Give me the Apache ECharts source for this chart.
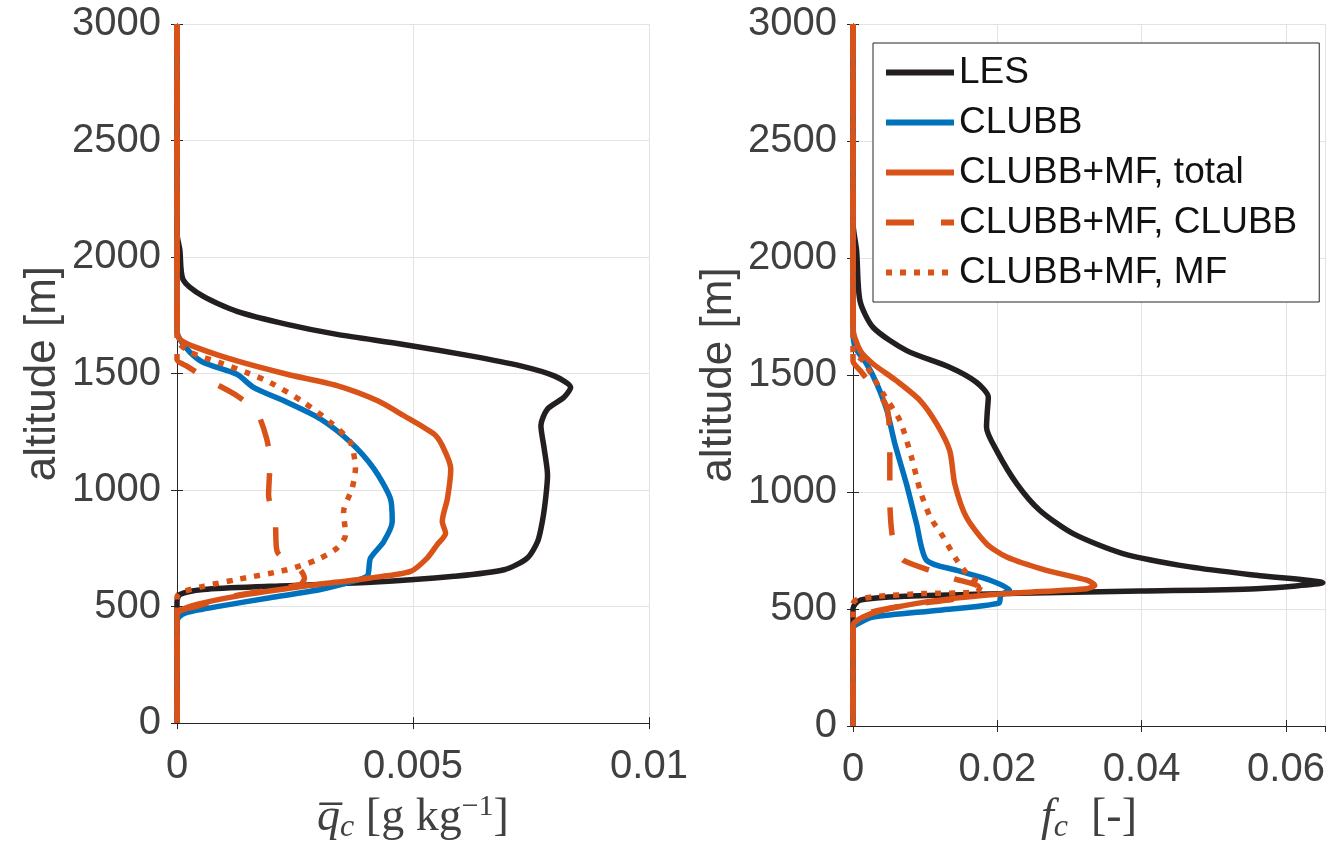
<!DOCTYPE html>
<html>
<head>
<meta charset="utf-8">
<script src="https://cdn.jsdelivr.net/npm/echarts@6/dist/echarts.min.js"></script>
<style>
  html, body { margin: 0; padding: 0; background: #fff; }
  #chart { width: 1328px; height: 849px; }
</style>
</head>
<body>
<div id="chart"></div>
<script>
// left panel: mean cloud water qc [g/kg] vs altitude [m]
const qcLesAlt = [3000, 2100, 2031, 1903, 1831, 1767, 1711, 1668, 1625, 1576, 1533, 1490, 1441, 1398, 1348, 1277, 1177, 1064, 964, 865, 779, 708, 658, 630, 604, 587, 573, 552, 520, 0]
const qcLesVal = [0, 0, 0.00006, 0.00013, 0.00056, 0.00127, 0.00233, 0.00339, 0.0048, 0.00622, 0.00728, 0.00799, 0.00834, 0.0082, 0.00785, 0.00771, 0.00778, 0.00785, 0.00781, 0.00774, 0.00764, 0.00742, 0.00693, 0.00587, 0.0041, 0.00197, 0.00056, 0.00006, 0, 0]

const qcClubbAlt = [3000, 1680, 1647, 1590, 1547, 1497, 1441, 1377, 1305, 1206, 1092, 964, 865, 779, 708, 651, 630, 609, 573, 538, 502, 474, 455, 430, 0]
const qcClubbVal = [0, 0, 0.00006, 0.00028, 0.00056, 0.00127, 0.00162, 0.00233, 0.00304, 0.00367, 0.00417, 0.00452, 0.00456, 0.00438, 0.0041, 0.00406, 0.00403, 0.00374, 0.00304, 0.00197, 0.00091, 0.0002, 0.00004, 0, 0]

const qcTotalAlt = [3000, 1680, 1647, 1611, 1554, 1497, 1448, 1384, 1320, 1241, 1191, 1092, 964, 865, 815, 765, 708, 651, 623, 587, 545, 509, 481, 460, 0]
const qcTotalVal = [0, 0, 0.00006, 0.00042, 0.00127, 0.00233, 0.00339, 0.00424, 0.0048, 0.00544, 0.00562, 0.0058, 0.00573, 0.00562, 0.00569, 0.00551, 0.0053, 0.00495, 0.0041, 0.00268, 0.00127, 0.00042, 0.00006, 0, 0]

const qcMfClubbAlt = [3000, 1560, 1533, 1469, 1405, 1334, 1220, 1121, 978, 865, 737, 694, 658, 620, 594, 545, 500, 470, 0]
const qcMfClubbVal = [0, 0, 0.0002, 0.0007, 0.00127, 0.00169, 0.0019, 0.00197, 0.00194, 0.00208, 0.00212, 0.00233, 0.00261, 0.0027, 0.0026, 0.0012, 0.0004, 0, 0]

const qcMfAlt = [3000, 1647, 1590, 1547, 1504, 1462, 1377, 1291, 1206, 1092, 1007, 907, 808, 751, 701, 658, 616, 587, 559, 540, 0]
const qcMfVal = [0, 0, 0.0003, 0.0009, 0.00148, 0.00197, 0.00268, 0.00325, 0.00367, 0.00378, 0.00371, 0.00353, 0.00357, 0.00339, 0.00297, 0.00233, 0.00127, 0.00056, 0.00006, 0, 0]

// right panel: cloud fraction fc [-] vs altitude [m]
const fcLesAlt = [3000, 2150, 2031, 1817, 1703, 1604, 1533, 1469, 1405, 1340, 1277, 1177, 1035, 921, 822, 737, 680, 644, 613, 587, 577, 566, 555, 538, 502, 0]
const fcLesVal = [0, 0, 0.0005, 0.00097, 0.0028, 0.00744, 0.0134, 0.0171, 0.01875, 0.0186, 0.0185, 0.0199, 0.0227, 0.0259, 0.0305, 0.0374, 0.0467, 0.0559, 0.0651, 0.0559, 0.0398, 0.0213, 0.0074, 0.001, 0, 0]

const fcClubbAlt = [3000, 1700, 1618, 1547, 1462, 1348, 1206, 1035, 865, 708, 665, 623, 580, 560, 525, 495, 466, 438, 420, 0]
const fcClubbVal = [0, 0, 0.0003, 0.0019, 0.0033, 0.0047, 0.0058, 0.0074, 0.0088, 0.0102, 0.0144, 0.019, 0.0217, 0.0205, 0.0202, 0.012, 0.0028, 0.0007, 0, 0]

const fcTotalAlt = [3000, 1700, 1604, 1547, 1476, 1391, 1291, 1177, 1035, 893, 779, 722, 665, 623, 601, 587, 566, 538, 502, 466, 430, 0]
const fcTotalVal = [0, 0, 0.001, 0.0028, 0.006, 0.0093, 0.0116, 0.0134, 0.0141, 0.0157, 0.0185, 0.0213, 0.0268, 0.0324, 0.0335, 0.0324, 0.0213, 0.012, 0.0051, 0.0014, 0, 0]

const fcMfClubbAlt = [3000, 1560, 1519, 1448, 1362, 1177, 964, 822, 751, 708, 665, 630, 594, 552, 516, 480, 440, 0]
const fcMfClubbVal = [0, 0, 0.001, 0.0028, 0.0047, 0.0051, 0.0051, 0.0054, 0.006, 0.007, 0.0107, 0.0139, 0.0174, 0.0157, 0.0074, 0.0018, 0, 0]

const fcMfAlt = [3000, 1600, 1561, 1490, 1419, 1305, 1149, 1007, 893, 808, 708, 630, 609, 573, 566, 552, 538, 520, 0]
const fcMfVal = [0, 0, 0.0014, 0.0028, 0.0042, 0.0065, 0.0081, 0.0093, 0.0107, 0.0125, 0.0144, 0.0164, 0.0178, 0.0171, 0.0097, 0.0028, 0.0004, 0, 0]

const seriesNames = ['LES', 'CLUBB', 'CLUBB+MF, total', 'CLUBB+MF, CLUBB', 'CLUBB+MF, MF']
const altTicks = [0, 3000, 500]

const BLACK = '#231f20'
const BLUE = '#0072bd'
const ORANGE = '#d95319'
const AXIS = '#262626'
const LABEL = '#404040'
const GRIDLINE = '#e3e3e3'

const zip = (xs, ys) => xs.map((x, i) => [x, ys[i]])

const lineStyles = [
  { color: BLACK, width: 5.5, type: 'solid' },
  { color: BLUE, width: 5.5, type: 'solid' },
  { color: ORANGE, width: 5.5, type: 'solid' },
  { color: ORANGE, width: 5.5, type: [28, 27] },
  { color: ORANGE, width: 5.5, type: [6, 8] }
]

function makeSeries(idx, sets) {
  return sets.map((d, i) => ({
    name: seriesNames[i],
    type: 'line',
    xAxisIndex: idx * 2,
    yAxisIndex: idx * 2,
    data: zip(d[1], d[0]),
    showSymbol: false,
    symbol: 'none',
    smooth: 0.25,
    clip: false,
    lineStyle: lineStyles[i],
    itemStyle: { color: lineStyles[i].color },
    z: 3 + i
  }))
}

const leftSets = [
  [qcLesAlt, qcLesVal],
  [qcClubbAlt, qcClubbVal],
  [qcTotalAlt, qcTotalVal],
  [qcMfClubbAlt, qcMfClubbVal],
  [qcMfAlt, qcMfVal]
]
const rightSets = [
  [fcLesAlt, fcLesVal],
  [fcClubbAlt, fcClubbVal],
  [fcTotalAlt, fcTotalVal],
  [fcMfClubbAlt, fcMfClubbVal],
  [fcMfAlt, fcMfVal]
]

const tickStyle = { show: true, inside: true, length: 6, lineStyle: { color: AXIS, width: 1 } }
const axisLine = { show: true, lineStyle: { color: AXIS, width: 1 } }

function bottomX(grid, max, interval, name, rich) {
  return {
    type: 'value', gridIndex: grid, position: 'bottom',
    min: 0, max: max, interval: interval,
    axisLine: axisLine, axisTick: tickStyle,
    splitLine: { show: true, lineStyle: { color: GRIDLINE, width: 1 } },
    axisLabel: { fontSize: 40, color: LABEL, margin: 24, fontFamily: 'Liberation Sans', showMaxLabel: grid === 0 },
    name: name, nameLocation: 'middle', nameGap: 66,
    nameTextStyle: { rich: rich }
  }
}
function topX(grid, max, interval) {
  return {
    type: 'value', gridIndex: grid, position: 'top',
    min: 0, max: max, interval: interval,
    axisLine: axisLine, axisTick: tickStyle,
    splitLine: { show: false }, axisLabel: { show: false }
  }
}
function leftY(grid) {
  return {
    type: 'value', gridIndex: grid, position: 'left',
    min: altTicks[0], max: altTicks[1], interval: altTicks[2],
    axisLine: axisLine, axisTick: tickStyle,
    splitLine: { show: true, lineStyle: { color: GRIDLINE, width: 1 } },
    axisLabel: { fontSize: 40, color: LABEL, margin: 16, fontFamily: 'Liberation Sans', formatter: v => String(v) },
    name: 'altitude [m]', nameLocation: 'middle', nameGap: 112,
    nameTextStyle: { fontSize: 44, color: LABEL, fontFamily: 'Liberation Sans' }
  }
}
function rightY(grid) {
  return {
    type: 'value', gridIndex: grid, position: 'right',
    min: altTicks[0], max: altTicks[1], interval: altTicks[2],
    axisLine: axisLine, axisTick: tickStyle,
    splitLine: { show: false }, axisLabel: { show: false }
  }
}

const serif = 'Liberation Serif'
const qcRich = {
  q: { fontFamily: serif, fontStyle: 'italic', fontSize: 46, color: LABEL },
  s: { fontFamily: serif, fontStyle: 'italic', fontSize: 32, color: LABEL, padding: [20, 0, 0, 0] },
  t: { fontFamily: serif, fontSize: 46, color: LABEL },
  p: { fontFamily: serif, fontSize: 30, color: LABEL, padding: [0, 0, 22, 0] }
}
const fcRich = qcRich

const chart = echarts.init(document.getElementById('chart'))

chart.setOption({
  animation: false,
  backgroundColor: '#fff',
  grid: [
    { left: 177, top: 24, width: 472, height: 702 },
    { left: 853, top: 24, width: 472, height: 702 }
  ],
  xAxis: [
    bottomX(0, 0.01, 0.005, '{q|q\u0305}{s|c}{t| [g kg}{p|\u22121}{t|]}', qcRich),
    topX(0, 0.01, 0.005),
    bottomX(1, 0.0654, 0.02, '{q|f}{s|c}{t|  [-]}', fcRich),
    topX(1, 0.0654, 0.02)
  ],
  yAxis: [leftY(0), rightY(0), leftY(1), rightY(1)],
  legend: {
    data: seriesNames,
    orient: 'vertical',
    left: 873, top: 43,
    padding: [9, 22, 9, 10],
    itemWidth: 68, itemHeight: 14, itemGap: 9,
    itemStyle: { opacity: 0 },
    lineStyle: { width: 6 },
    backgroundColor: '#fff',
    borderColor: AXIS, borderWidth: 1,
    textStyle: { fontSize: 37, color: '#111', fontFamily: 'Liberation Sans', lineHeight: 41 },
    selectedMode: false,
    z: 20
  },
  series: makeSeries(0, leftSets).concat(makeSeries(1, rightSets))
})
</script>
</body>
</html>
